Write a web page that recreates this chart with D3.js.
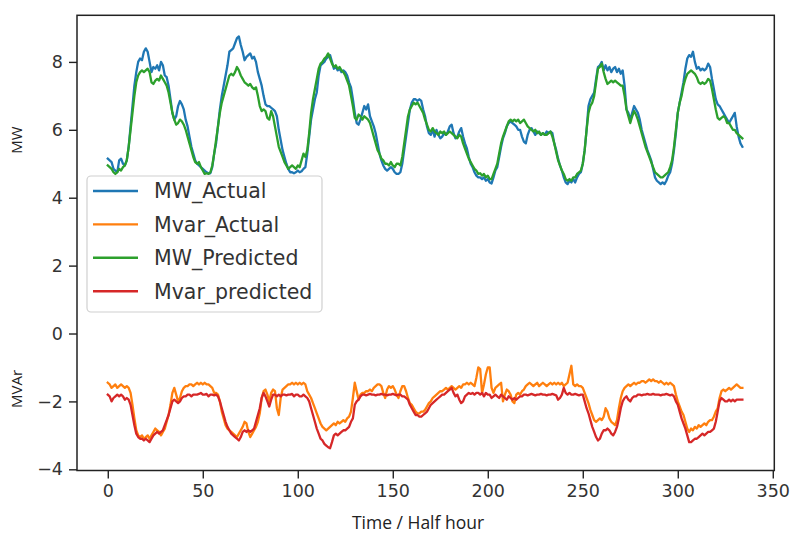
<!DOCTYPE html>
<html><head><meta charset="utf-8">
<script src="https://cdn.jsdelivr.net/npm/d3@7"></script>
<style>body{margin:0;background:#fff}svg{display:block}</style>
</head><body>
<script>
const seriesNames = ["MW_Actual","Mvar_Actual","MW_Predicted","Mvar_predicted"];
const seriesColors = ["#1f77b4","#ff7f0e","#2ca02c","#d62728"];
const xTicks = [0,50,100,150,200,250,300,350];
const yTicks = [-4,-2,0,2,4,6,8];

const mwActual = [
5.15,5.1,5.05,4.85,4.8,4.75,5.1,5.15,5.0,4.95,
5.1,5.5,6.1,6.7,7.3,7.7,8.0,8.1,8.05,8.3,
8.4,8.3,8.0,7.7,7.85,7.8,7.9,7.75,8.0,7.9,
7.6,7.55,7.3,6.9,6.5,6.3,6.4,6.7,6.85,6.75,
6.6,6.3,6.1,5.8,5.5,5.3,5.1,5.0,4.95,4.9,
4.85,4.8,4.75,4.72,4.72,4.9,5.3,5.6,6.1,6.6,
7.0,7.3,7.6,7.9,8.3,8.35,8.4,8.55,8.7,8.75,
8.5,8.3,8.05,8.15,8.2,8.25,8.1,8.15,8.0,7.7,
7.5,7.3,7.0,6.75,6.7,6.7,6.65,6.6,6.55,6.4,
6.0,5.7,5.4,5.2,5.0,4.85,4.75,4.75,4.72,4.75,
4.8,4.75,4.78,4.85,4.9,5.3,5.8,6.3,6.6,6.9,
7.1,7.6,7.9,7.95,8.0,8.1,8.15,8.2,8.0,7.8,
7.85,7.75,7.8,7.7,7.75,7.7,7.6,7.4,7.25,6.9,
6.5,6.2,6.15,6.3,6.5,6.7,6.6,6.75,6.4,6.25,
6.1,5.9,5.6,5.3,5.1,4.95,4.85,4.8,4.85,4.9,
4.85,4.75,4.7,4.7,4.75,5.0,5.4,5.8,6.2,6.6,
6.8,6.9,6.9,6.85,6.9,6.85,6.6,6.4,6.1,5.9,
5.85,6.0,5.8,6.0,5.85,5.75,5.8,5.9,5.85,5.95,
6.1,6.15,5.9,5.75,5.8,5.95,6.05,5.8,5.6,5.45,
5.2,5.0,4.9,4.75,4.65,4.6,4.6,4.55,4.6,4.5,
4.55,4.45,4.42,4.6,4.8,4.9,5.2,5.5,5.75,5.9,
6.1,6.2,6.25,6.2,6.15,6.1,6.0,6.0,5.8,5.65,
5.6,5.85,6.0,6.05,5.95,5.85,5.95,5.9,5.85,5.9,
5.85,5.95,5.9,5.95,5.9,5.6,5.4,5.15,4.95,4.8,
4.6,4.45,4.4,4.5,4.45,4.55,4.45,4.6,4.7,4.75,
5.0,5.4,6.0,6.7,6.9,7.0,7.1,7.5,7.85,7.9,
8.0,7.75,7.9,7.75,7.85,7.7,7.8,7.85,7.7,7.8,
7.65,7.75,7.3,6.6,6.5,6.3,6.5,6.7,6.6,6.5,
6.3,6.0,5.8,5.6,5.4,5.25,5.1,4.85,4.6,4.5,
4.45,4.4,4.45,4.4,4.5,4.65,4.75,5.0,5.4,5.9,
6.5,6.8,7.1,7.4,7.8,8.1,8.2,8.15,8.3,8.0,
7.8,7.85,7.75,7.8,7.75,7.8,7.95,7.85,7.5,7.2,
6.9,6.75,6.7,6.6,6.5,6.4,6.3,6.2,6.3,6.4,
6.5,6.1,5.8,5.6,5.5];

const mvarActual = [
-1.45,-1.5,-1.6,-1.55,-1.5,-1.6,-1.55,-1.5,-1.55,-1.6,
-1.55,-1.6,-1.75,-2.1,-2.5,-2.85,-3.0,-3.05,-3.0,-3.1,
-3.05,-3.0,-3.1,-3.0,-2.9,-2.8,-2.85,-2.9,-3.0,-2.9,
-2.8,-2.6,-2.4,-2.1,-1.75,-1.6,-1.8,-2.0,-1.9,-1.7,
-1.6,-1.55,-1.55,-1.5,-1.5,-1.55,-1.5,-1.45,-1.5,-1.45,
-1.5,-1.45,-1.5,-1.5,-1.55,-1.6,-1.75,-1.75,-1.8,-2.0,
-2.3,-2.5,-2.7,-2.8,-2.85,-2.9,-2.95,-3.0,-3.05,-2.95,
-2.85,-2.75,-2.6,-2.65,-2.9,-3.05,-2.95,-2.85,-2.75,-2.6,
-2.35,-1.9,-1.7,-1.65,-1.8,-2.0,-1.75,-1.65,-1.7,-2.2,
-2.4,-1.9,-1.65,-1.6,-1.55,-1.5,-1.5,-1.45,-1.5,-1.45,
-1.5,-1.45,-1.5,-1.45,-1.5,-1.7,-1.8,-1.9,-2.05,-2.2,
-2.35,-2.5,-2.65,-2.75,-2.8,-2.85,-2.8,-2.75,-2.7,-2.65,
-2.7,-2.6,-2.65,-2.6,-2.55,-2.6,-2.5,-2.45,-2.3,-1.9,
-1.45,-1.7,-1.95,-1.8,-1.75,-1.75,-1.7,-1.7,-1.65,-1.7,
-1.6,-1.55,-1.5,-1.5,-1.55,-1.75,-1.9,-1.65,-1.55,-1.6,
-1.55,-1.65,-1.8,-1.9,-1.7,-1.55,-1.55,-1.7,-1.9,-2.05,
-2.1,-2.2,-2.3,-2.35,-2.35,-2.3,-2.3,-2.25,-2.15,-2.05,
-2.0,-1.9,-1.85,-1.8,-1.75,-1.7,-1.7,-1.65,-1.6,-1.65,
-1.6,-1.55,-1.6,-1.65,-1.6,-1.55,-1.6,-1.5,-1.5,-1.45,
-1.5,-1.45,-1.5,-1.55,-1.3,-1.0,-1.05,-1.75,-1.5,-1.2,
-1.0,-1.0,-1.6,-1.75,-1.6,-1.55,-1.5,-1.45,-2.0,-1.8,
-1.65,-1.7,-1.8,-2.0,-2.05,-1.8,-1.75,-1.8,-1.7,-1.65,
-1.55,-1.5,-1.45,-1.5,-1.55,-1.5,-1.45,-1.55,-1.5,-1.45,
-1.5,-1.55,-1.5,-1.45,-1.5,-1.45,-1.5,-1.45,-1.5,-1.45,
-1.55,-1.5,-1.45,-1.2,-0.95,-1.5,-1.55,-1.5,-1.55,-1.55,
-1.6,-1.75,-1.9,-2.05,-2.25,-2.4,-2.55,-2.6,-2.55,-2.5,
-2.55,-2.45,-2.2,-2.3,-2.5,-2.6,-2.65,-2.7,-2.55,-2.2,
-1.9,-1.7,-1.6,-1.55,-1.5,-1.55,-1.5,-1.45,-1.5,-1.45,
-1.45,-1.4,-1.4,-1.45,-1.4,-1.35,-1.4,-1.35,-1.4,-1.4,
-1.45,-1.4,-1.45,-1.5,-1.45,-1.5,-1.45,-1.5,-1.55,-1.8,
-2.0,-2.15,-2.3,-2.4,-2.6,-2.8,-2.9,-2.8,-2.85,-2.75,
-2.8,-2.7,-2.75,-2.7,-2.65,-2.7,-2.6,-2.55,-2.55,-2.45,
-2.3,-2.2,-1.9,-1.7,-1.65,-1.7,-1.65,-1.6,-1.65,-1.6,
-1.55,-1.5,-1.55,-1.6,-1.6];

const mwPredicted = [
4.95,4.9,4.85,4.75,4.7,4.75,4.85,4.8,4.9,4.95,
5.1,5.5,6.0,6.5,7.0,7.4,7.6,7.7,7.75,7.7,
7.75,7.8,7.7,7.4,7.35,7.45,7.5,7.45,7.6,7.5,
7.4,7.3,7.1,6.8,6.5,6.3,6.15,6.2,6.3,6.25,
6.15,6.0,5.8,5.6,5.4,5.2,5.05,5.0,5.05,4.9,
4.8,4.7,4.72,4.7,4.75,4.95,5.3,5.7,6.1,6.5,
6.8,7.0,7.2,7.4,7.6,7.65,7.6,7.7,7.85,7.75,
7.6,7.5,7.4,7.35,7.3,7.35,7.25,7.2,7.25,7.0,
6.7,6.55,6.6,6.55,6.35,6.3,6.55,6.4,6.1,5.8,
5.5,5.35,5.2,5.05,4.95,4.85,4.9,4.95,4.9,4.85,
4.95,4.9,5.1,5.3,5.2,5.4,5.9,6.5,6.9,7.2,
7.5,7.8,7.95,8.0,8.1,8.15,8.25,8.1,7.95,7.85,
7.9,7.8,7.85,7.75,7.7,7.6,7.45,7.3,7.0,6.7,
6.35,6.3,6.45,6.4,6.3,6.4,6.35,6.3,6.2,6.0,
5.8,5.6,5.4,5.3,5.15,5.1,5.0,5.0,4.95,5.05,
4.95,4.9,5.0,5.0,4.95,5.2,5.6,6.0,6.4,6.6,
6.7,6.8,6.75,6.8,6.7,6.6,6.5,6.3,6.15,6.0,
5.95,6.05,5.95,5.9,5.85,5.95,5.9,5.95,5.85,5.9,
5.95,5.9,5.85,5.8,5.75,5.85,5.8,5.6,5.45,5.3,
5.15,5.05,4.95,4.85,4.8,4.7,4.72,4.65,4.7,4.6,
4.65,4.55,4.55,4.7,4.85,5.0,5.3,5.6,5.8,5.95,
6.1,6.25,6.3,6.25,6.3,6.25,6.3,6.2,6.25,6.3,
6.2,6.1,6.05,6.0,5.95,6.0,5.9,5.95,5.85,5.9,
5.85,5.85,5.9,5.95,5.8,5.6,5.35,5.1,4.95,4.8,
4.7,4.55,4.5,4.55,4.5,4.6,4.6,4.7,4.75,4.8,
5.0,5.4,6.0,6.5,6.7,6.8,7.0,7.4,7.8,7.85,
7.95,7.7,7.5,7.35,7.4,7.45,7.4,7.45,7.4,7.35,
7.3,7.3,7.0,6.6,6.4,6.2,6.4,6.55,6.45,6.3,
6.1,5.9,5.7,5.5,5.35,5.2,5.05,4.9,4.75,4.7,
4.65,4.6,4.6,4.65,4.7,4.75,4.9,5.1,5.5,6.0,
6.5,6.8,7.0,7.3,7.5,7.65,7.7,7.75,7.7,7.65,
7.55,7.4,7.35,7.4,7.35,7.4,7.5,7.45,7.2,6.9,
6.6,6.35,6.3,6.35,6.4,6.35,6.2,6.2,6.1,6.0,
6.0,5.9,5.85,5.8,5.75];

const mvarPredicted = [
-1.8,-1.85,-2.0,-1.9,-1.85,-1.8,-1.85,-1.8,-1.85,-1.95,
-1.9,-1.95,-2.1,-2.4,-2.7,-2.95,-3.05,-3.1,-3.1,-3.15,
-3.1,-3.15,-3.2,-3.1,-3.0,-2.95,-2.9,-2.95,-2.9,-2.85,
-2.7,-2.55,-2.4,-2.2,-2.0,-1.95,-2.0,-2.05,-2.0,-1.9,
-1.85,-1.85,-1.8,-1.8,-1.85,-1.8,-1.8,-1.8,-1.78,-1.75,
-1.8,-1.8,-1.78,-1.85,-1.8,-1.8,-1.82,-1.8,-1.85,-2.0,
-2.2,-2.4,-2.6,-2.75,-2.85,-2.95,-3.0,-3.05,-3.1,-3.15,
-3.05,-2.9,-2.85,-2.9,-2.85,-2.9,-2.85,-2.8,-2.6,-2.4,
-2.2,-1.9,-1.75,-1.85,-2.0,-2.15,-1.95,-1.8,-1.8,-1.85,
-1.8,-1.85,-1.8,-1.8,-1.82,-1.8,-1.8,-1.78,-1.85,-1.8,
-1.8,-1.85,-1.85,-1.8,-1.85,-1.9,-2.0,-2.2,-2.4,-2.6,
-2.8,-2.95,-3.1,-3.15,-3.25,-3.3,-3.35,-3.38,-3.2,-3.0,
-2.95,-3.0,-2.95,-2.9,-2.85,-2.85,-2.8,-2.75,-2.6,-2.5,
-2.1,-2.0,-1.95,-1.85,-1.8,-1.8,-1.82,-1.8,-1.78,-1.8,
-1.8,-1.82,-1.8,-1.8,-1.78,-1.8,-1.8,-1.82,-1.8,-1.8,
-1.78,-1.8,-1.82,-1.8,-1.8,-1.85,-1.85,-1.9,-1.95,-2.1,
-2.2,-2.3,-2.4,-2.4,-2.45,-2.45,-2.4,-2.35,-2.3,-2.2,
-2.1,-2.05,-2.0,-1.95,-1.9,-1.85,-1.8,-1.8,-1.75,-1.7,
-1.65,-1.6,-1.75,-1.85,-1.8,-1.95,-2.05,-2.0,-1.85,-1.8,
-1.75,-1.78,-1.75,-1.8,-1.75,-1.75,-1.8,-1.75,-1.85,-1.75,
-1.8,-1.8,-1.9,-1.85,-1.8,-1.85,-1.9,-1.8,-1.85,-1.9,
-1.95,-1.85,-1.9,-1.95,-1.9,-1.95,-1.9,-1.85,-1.85,-1.8,
-1.8,-1.82,-1.8,-1.78,-1.8,-1.82,-1.8,-1.8,-1.78,-1.8,
-1.8,-1.82,-1.8,-1.8,-1.78,-1.8,-1.82,-1.95,-1.9,-1.8,
-1.6,-1.75,-1.8,-1.75,-1.8,-1.8,-1.78,-1.8,-1.82,-1.8,
-1.8,-2.0,-2.2,-2.35,-2.55,-2.75,-2.9,-3.05,-3.15,-3.1,
-2.95,-2.85,-2.85,-2.8,-2.85,-2.95,-3.0,-2.9,-2.75,-2.5,
-2.2,-2.0,-1.9,-1.85,-1.95,-2.0,-1.9,-1.85,-1.85,-1.8,
-1.8,-1.82,-1.8,-1.8,-1.78,-1.8,-1.8,-1.78,-1.8,-1.8,
-1.8,-1.82,-1.8,-1.8,-1.78,-1.8,-1.82,-1.8,-1.85,-2.0,
-2.1,-2.3,-2.5,-2.65,-2.8,-3.0,-3.2,-3.2,-3.15,-3.1,
-3.1,-3.05,-3.0,-2.95,-3.0,-2.95,-2.9,-2.9,-2.85,-2.8,
-2.6,-2.3,-2.0,-1.9,-1.95,-2.0,-2.0,-1.95,-2.0,-1.95,
-2.0,-1.95,-1.95,-1.95,-1.95];

const allSeries = [mwActual, mvarActual, mwPredicted, mvarPredicted];

(function(){
const W = 792, H = 534;
const pL = 77, pR = 774.3, pT = 15.3, pB = 470.5;

const svg = d3.select("body").append("svg").attr("width", W).attr("height", H);

const x = d3.scaleLinear().domain([-16.2, 350.8]).range([pL, pR]);
const y = d3.scaleLinear().domain([-4.035, 9.373]).range([pB, pT]);

const tickFont = "DejaVu Sans, sans-serif";

const line = d3.line().x((d, i) => x(i)).y(d => y(d));
svg.append("clipPath").attr("id","clip").append("rect")
  .attr("x", pL).attr("y", pT).attr("width", pR-pL).attr("height", pB-pT);
const plot = svg.append("g").attr("clip-path", "url(#clip)");
allSeries.forEach((s, k) => {
  plot.append("path").datum(s)
    .attr("d", line)
    .attr("fill", "none")
    .attr("stroke", seriesColors[k])
    .attr("stroke-width", 2.3)
    .attr("stroke-linejoin", "round")
    .attr("stroke-linecap", "square");
});

const xAxis = d3.axisBottom(x).tickValues(xTicks).tickSize(8).tickPadding(6).tickFormat(d3.format("d"));
const gx = svg.append("g").attr("transform", `translate(0,${pB})`).call(xAxis);
const yAxis = d3.axisLeft(y).tickValues(yTicks).tickSize(8).tickPadding(6)
  .tickFormat(d => d < 0 ? "\u2212" + Math.abs(d) : String(d));
const gy = svg.append("g").attr("transform", `translate(${pL},0)`).call(yAxis);
[gx, gy].forEach(g => {
  g.select(".domain").remove();
  g.selectAll(".tick line").attr("stroke", "#222").attr("stroke-width", 1.4);
  g.selectAll(".tick text").attr("fill", "#333").style("font-family", tickFont).style("font-size", "17.5px");
});

svg.append("rect").attr("x", pL).attr("y", pT).attr("width", pR-pL).attr("height", pB-pT)
  .attr("fill", "none").attr("stroke", "#222").attr("stroke-width", 1.5);

svg.append("text").attr("x", 418).attr("y", 529).attr("text-anchor", "middle")
  .style("font-family", "Open Sans, sans-serif").style("font-size", "17.5px").attr("fill", "#222")
  .text("Time / Half hour");
svg.append("text").attr("transform", "translate(22,140) rotate(-90)").attr("text-anchor", "middle")
  .style("font-family", "Open Sans, sans-serif").style("font-size", "15px").attr("fill", "#222")
  .text("MW");
svg.append("text").attr("transform", "translate(22,389) rotate(-90)").attr("text-anchor", "middle")
  .style("font-family", "Open Sans, sans-serif").style("font-size", "15px").attr("fill", "#222")
  .text("MVAr");

const lg = svg.append("g");
lg.append("rect").attr("x", 87).attr("y", 176).attr("width", 235).attr("height", 136)
  .attr("rx", 4).attr("fill", "white").attr("fill-opacity", 0.85)
  .attr("stroke", "#d0d0d0").attr("stroke-width", 1.2);
seriesNames.forEach((name, k) => {
  const cy = 191 + k * 33.4;
  lg.append("line").attr("x1", 93).attr("x2", 138).attr("y1", cy).attr("y2", cy)
    .attr("stroke", seriesColors[k]).attr("stroke-width", 2.4);
  lg.append("text").attr("x", 154).attr("y", cy).attr("dy", "0.36em")
    .style("font-family", tickFont).style("font-size", "20.5px").attr("fill", "#333")
    .text(name);
});
})();
</script>
</body></html>
